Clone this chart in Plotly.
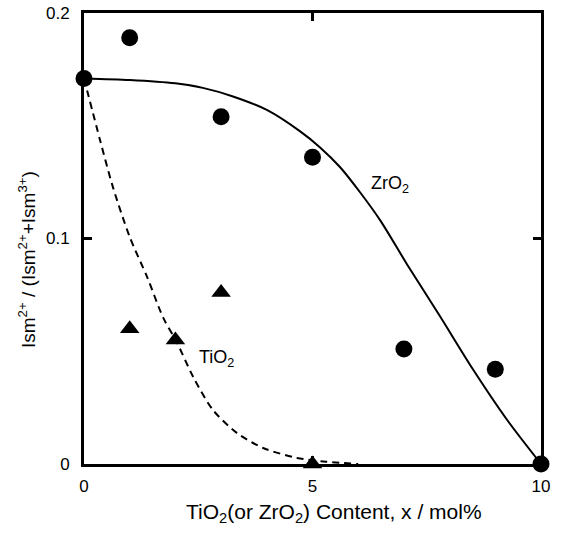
import plotly.graph_objects as go

# Measured points
zr_x = [0, 1, 3, 5, 7, 9, 10]
zr_y = [0.171, 0.189, 0.154, 0.136, 0.051, 0.042, 0.0]
ti_x = [1, 2, 3, 5]
ti_y = [0.060, 0.055, 0.076, 0.0]

# Guide curves
zr_curve_x = [0, 1.0, 2.0, 2.6, 3.26, 4.0, 4.73, 5.16, 5.6, 6.04, 6.5, 7.07, 7.79, 8.51, 9.26, 10]
zr_curve_y = [0.171, 0.1703, 0.1688, 0.1668, 0.1630, 0.1570, 0.1475, 0.1405, 0.1317, 0.1205,
              0.1075, 0.0885, 0.0655, 0.0420, 0.0195, 0.0]
ti_curve_x = [0, 0.35, 0.63, 1.0, 1.38, 1.73, 2.03, 2.39, 2.82, 3.35, 3.92, 4.66, 5.3, 6.0]
ti_curve_y = [0.171, 0.1437, 0.123, 0.1007, 0.083, 0.065, 0.054, 0.0386, 0.024, 0.0137, 0.0071, 0.0027, 0.001, 0.0]

x_ticks = [0, 5, 10]
x_ticktext = ["0", "5", "10"]
y_ticks = [0, 0.1, 0.2]
y_ticktext = ["0", "0.1", "0.2"]

x_title = "TiO<sub>2</sub>(or ZrO<sub>2</sub>) Content, x / mol%"
y_title = "Ism<sup>2+</sup> / (Ism<sup>2+</sup>+Ism<sup>3+</sup>)"

font = "Liberation Sans, Arial, sans-serif"

fig = go.Figure()
fig.add_trace(go.Scatter(x=zr_curve_x, y=zr_curve_y, mode="lines",
                         line=dict(color="black", width=2, shape="spline", smoothing=0.8),
                         hoverinfo="skip", cliponaxis=False))
fig.add_trace(go.Scatter(x=ti_curve_x, y=ti_curve_y, mode="lines",
                         line=dict(color="black", width=2, dash="7px,5px", shape="spline", smoothing=0.8),
                         hoverinfo="skip", cliponaxis=False))
fig.add_trace(go.Scatter(x=zr_x, y=zr_y, mode="markers",
                         marker=dict(symbol="circle", size=17, color="black"), cliponaxis=False))
fig.add_trace(go.Scatter(x=ti_x, y=ti_y, mode="markers",
                         marker=dict(symbol="triangle-up", size=17, color="black"), cliponaxis=False))

fig.add_annotation(x=6.7, y=0.124, text="ZrO<sub>2</sub>", showarrow=False,
                   font=dict(family=font, size=18, color="black"))
fig.add_annotation(x=2.9, y=0.047, text="TiO<sub>2</sub>", showarrow=False,
                   font=dict(family=font, size=18, color="black"))

# axis titles as annotations for exact placement
fig.add_annotation(xref="paper", yref="paper", x=(334 - 84) / 457, y=-(513 - 464) / 451,
                   text=x_title, showarrow=False, xanchor="center", yanchor="middle",
                   font=dict(family=font, size=21, color="black"))
fig.add_annotation(xref="paper", yref="paper", x=-(84 - 27) / 457, y=(464 - 260) / 451,
                   text=y_title, showarrow=False, xanchor="center", yanchor="middle",
                   textangle=-90, font=dict(family=font, size=19, color="black"))

fig.update_layout(
    width=561, height=535,
    margin=dict(l=84, r=20, t=13, b=71),
    paper_bgcolor="white", plot_bgcolor="white",
    showlegend=False,
    font=dict(family=font, size=17, color="black"),
)
fig.update_xaxes(range=[0, 10], tickvals=x_ticks, ticktext=x_ticktext, automargin=False,
                 showline=True, linecolor="black", linewidth=3, mirror="ticks",
                 ticks="inside", ticklen=8, tickwidth=3, tickcolor="black",
                 showgrid=False, zeroline=False, ticklabelstandoff=5,
                 tickfont=dict(family=font, size=17))
fig.update_yaxes(range=[0, 0.2], tickvals=y_ticks, ticktext=y_ticktext, automargin=False,
                 showline=True, linecolor="black", linewidth=3, mirror="ticks",
                 ticks="inside", ticklen=8, tickwidth=3, tickcolor="black",
                 showgrid=False, zeroline=False, ticklabelstandoff=8,
                 tickfont=dict(family=font, size=17))

fig.write_html("out.html", config={"displayModeBar": False},
               post_script="document.body.style.margin='0';document.body.style.padding='0';")
